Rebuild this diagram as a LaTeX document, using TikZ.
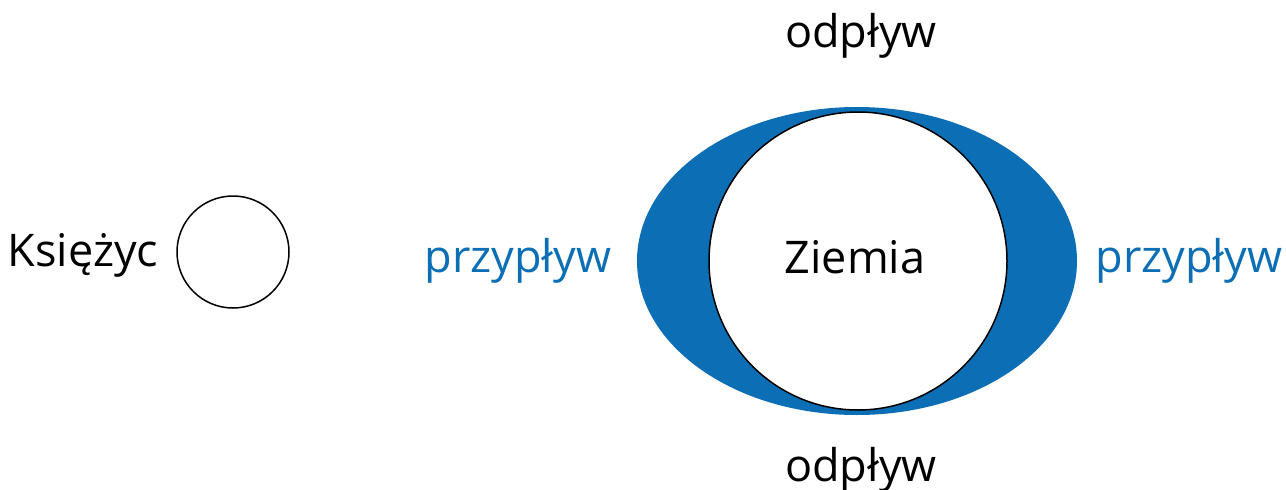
\documentclass[tikz,border=0pt]{standalone}
\usepackage{fontspec}
\setmainfont{Open Sans}
\definecolor{tideblue}{HTML}{0C6FB5}
\begin{document}
\begin{tikzpicture}[x=1pt,y=-1pt,
  lbl/.style={anchor=base,inner sep=0pt,font=\fontsize{45}{54}\selectfont},
  tide/.style={lbl,text=tideblue}]
\useasboundingbox (0,0) rectangle (1286,490);
\fill[tideblue] (857,261) ellipse [x radius=220, y radius=154];
\node[circle,draw,line width=1.5pt,fill=white,minimum size=298pt,inner sep=0pt] (earth) at (858,261) {};
\node[circle,draw,line width=1.5pt,fill=white,minimum size=112pt,inner sep=0pt] (moon) at (233,252) {};
\node[lbl] (ziemia) at (855,273) {Ziemia};
\node[lbl] (ksiezyc) at (83,266) {Księżyc};
\node[tide] (pl) at (518,272) {przypływ};
\node[tide] (pr) at (1189,272) {przypływ};
\node[lbl] (ot) at (861,47) {odpływ};
\node[lbl] (ob) at (861,481) {odpływ};
\end{tikzpicture}
\end{document}
